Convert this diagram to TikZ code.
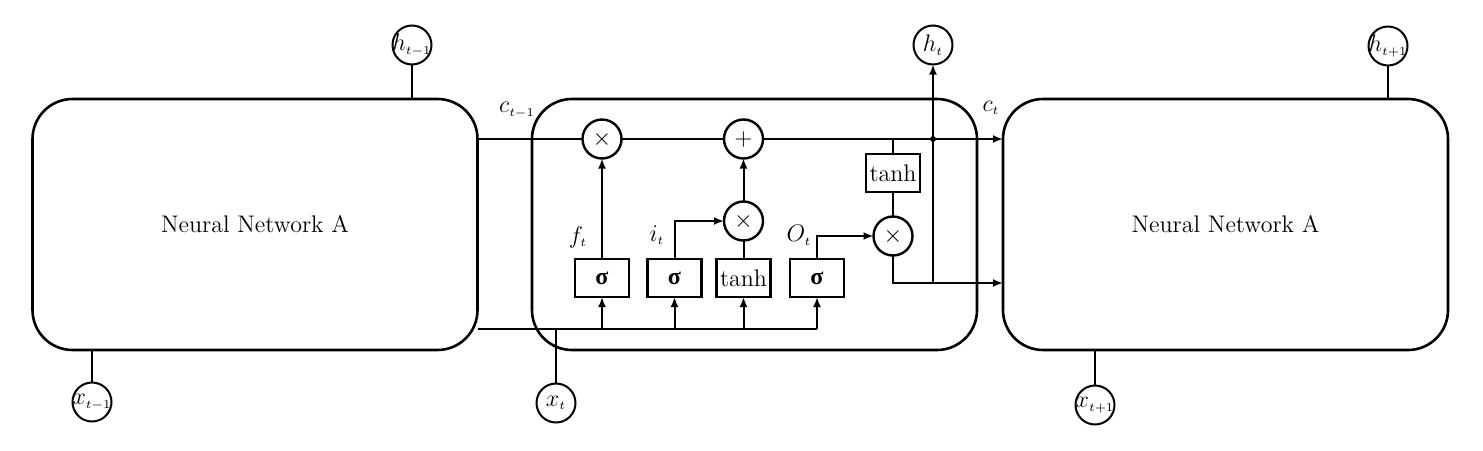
\documentclass[tikz,border=0pt]{standalone}
\usepackage{amsmath,amssymb}
\usepackage{fontspec}
\usepackage{tikz}
\usetikzlibrary{arrows.meta,positioning}
\newfontfamily\grkfont{Liberation Serif}
\newcommand{\sig}{{\grkfont\bfseries σ}}
\tikzset{
  netbox/.style={draw=black, line width=1.3pt, rounded corners=20pt, minimum width=222.5pt, minimum height=125.5pt, outer sep=0pt, font=\large},
  gatebox/.style={draw=black, line width=1.2pt, minimum width=27pt, minimum height=19pt, inner sep=0pt, outer sep=0pt, font=\large},
  opcirc/.style={draw=black, circle, line width=1.2pt, minimum size=19.5pt, inner sep=0pt, outer sep=0pt, font=\large},
  iocirc/.style={draw=black, circle, line width=1pt, minimum size=19.5pt, inner sep=0pt, outer sep=0pt, font=\large},
  farr/.style={-{Latex[length=5pt,width=4pt]}, line width=1pt},
  flin/.style={line width=1pt}
}

\begin{document}
\begin{tikzpicture}[x=0.5pt, y=-0.5pt]
\useasboundingbox (0,0) rectangle (1483,450);
\node[netbox] (nnL) at (255,224.5) {Neural Network A};
\node[netbox] (cell) at (754.5,224.5) {};
\node[netbox] (nnR) at (1225.5,224.5) {Neural Network A};
\node[iocirc] (htm1) at (412,45) {\makebox[0pt]{$h_{\scriptscriptstyle t-1}$}};
\node[iocirc] (ht) at (933,45) {\makebox[0pt]{$h_{\scriptscriptstyle t}$}};
\node[iocirc] (htp1) at (1388,46) {\makebox[0pt]{$h_{\scriptscriptstyle t+1}$}};
\node[iocirc] (xtm1) at (92,402) {\makebox[0pt]{$x_{\scriptscriptstyle t-1}$}};
\node[iocirc] (xt) at (556,403) {\makebox[0pt]{$x_{\scriptscriptstyle t}$}};
\node[iocirc] (xtp1) at (1095,405) {\makebox[0pt]{$x_{\scriptscriptstyle t+1}$}};
\node[gatebox] (sigf) at (602,278) {\sig};
\node[gatebox] (sigi) at (674.5,278) {\sig};
\node[gatebox] (tanhg) at (743.5,278) {tanh};
\node[gatebox] (sigo) at (817,278) {\sig};
\node[gatebox] (tanhc) at (893,173) {tanh};
\node[opcirc] (mulf) at (602,139) {$\times$};
\node[opcirc] (addc) at (743.5,139) {$+$};
\node[opcirc] (muli) at (743.5,221) {$\times$};
\node[opcirc] (mulo) at (893,236) {$\times$};
\node[font=\large] (lf) at (578,237) {$f_{\scriptscriptstyle t}$};
\node[font=\large] (li) at (657,235) {$i_{\scriptscriptstyle t}$};
\node[font=\large] (lo) at (799,235) {$O_{\scriptscriptstyle t}$};
\node[font=\large] (lcp) at (517,110) {$c_{\scriptscriptstyle t-1}$};
\node[font=\large] (lc) at (991,108) {$c_{\scriptscriptstyle t}$};
\coordinate (xbus) at (556,329);
\coordinate (hout) at (933,283);
\draw[flin] (nnL.east |- mulf) -- (mulf);
\draw[flin] (mulf) -- (addc);
\draw[farr] (addc) -- (nnR.west |- addc);
\draw[flin] (nnL.east |- xbus) -- (xbus -| sigo);
\draw[flin] (xt) -- (xbus);
\draw[farr] (sigf |- xbus) -- (sigf);
\draw[farr] (sigi |- xbus) -- (sigi);
\draw[farr] (tanhg |- xbus) -- (tanhg);
\draw[farr] (sigo |- xbus) -- (sigo);
\draw[farr] (sigf) -- (mulf);
\draw[farr] (sigi) |- (muli);
\draw[flin] (tanhg) -- (muli);
\draw[farr] (muli) -- (addc);
\draw[farr] (sigo) |- (mulo);
\draw[flin] (tanhc |- addc) -- (tanhc);
\draw[flin] (tanhc) -- (mulo);
\draw[farr] (mulo) |- (nnR.west |- hout);
\draw[farr] (hout) -- (ht);
\fill (ht |- addc) circle (1.5pt);
\draw[flin] (htm1) -- (htm1 |- nnL.north);
\draw[flin] (htp1) -- (htp1 |- nnR.north);
\draw[flin] (xtm1) -- (xtm1 |- nnL.south);
\draw[flin] (xtp1) -- (xtp1 |- nnR.south);
\end{tikzpicture}
\end{document}
